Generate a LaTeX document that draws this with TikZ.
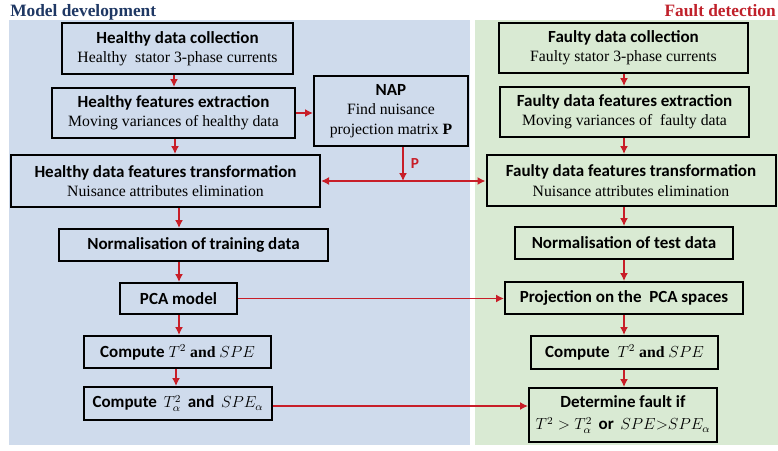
\documentclass[tikz,border=0pt]{standalone}
\usepackage{fontspec}
\setmainfont{Liberation Serif}
\newfontfamily\calfont{Carlito}
\usetikzlibrary{arrows.meta}
\definecolor{panelblue}{HTML}{CFDBEC}
\definecolor{panelgreen}{HTML}{D9EAD3}
\definecolor{arrred}{HTML}{C81E28}
\definecolor{titleblue}{HTML}{1F3864}
\definecolor{titlered}{HTML}{C0202A}
\newcommand\hd[1]{{\calfont\bfseries\fontsize{12.75}{15}\selectfont #1}}
\tikzset{
  box/.style={draw=black, line width=1.5pt, align=center, inner sep=1pt,
    font=\fontsize{11.8}{14.5}\selectfont},
  sz/.style 2 args={minimum width=#1*0.75pt, minimum height=#2*0.75pt},
  arr/.style={draw=arrred, line width=1.1pt, -{Latex[length=6pt,width=6pt]}},
  arrb/.style={draw=arrred, line width=1.1pt, {Latex[length=6pt,width=6pt]}-{Latex[length=6pt,width=6pt]}},
  heading/.style={font=\bfseries\fontsize{13}{15}\selectfont, inner sep=0pt},
}
\begin{document}
\begin{tikzpicture}[x=0.75pt,y=-0.75pt]
\useasboundingbox (0,0) rectangle (778,450);
\fill[white] (0,0) rectangle (778,450);
\fill[panelblue] (9,20) rectangle (470,445);
\fill[panelgreen] (475,20) rectangle (778,445);
\node[heading, text=titleblue, anchor=base west] (t1) at (10,16) {Model development};
\node[heading, text=titlered, anchor=base east] (t2) at (776,16) {Fault detection};
% left column
\node[box, sz={231}{51}] (b1) at (177.5,48.5) {\hd{Healthy data collection}\\Healthy~ stator 3-phase currents};
\node[box, sz={243}{50}] (b2) at (173.5,113) {\hd{Healthy features extraction}\\Moving variances of healthy data};
\node[box, sz={154}{70}] (nap) at (391,111) {\hd{NAP}\\Find nuisance\\projection matrix \textbf{P}};
\node[box, sz={309}{52}] (b3) at (165.5,181) {\hd{Healthy data features transformation}\\Nuisance attributes elimination};
\node[box, sz={269}{32}] (b4) at (193.5,245) {\hd{Normalisation of training data}};
\node[box, sz={117}{31}] (b5) at (178.5,298.5) {\hd{PCA model}};
\node[box, sz={187}{32}] (b6) at (177.5,352) {\hd{Compute} $T^2$ \textbf{and} $SPE$};
\node[box, sz={188}{33}] (b7) at (178,403.5) {\hd{Compute}\, $T^2_\alpha$\, \hd{and}\, $SPE_\alpha$};
% right column
\node[box, sz={249}{50}] (f1) at (623.5,48) {\hd{Faulty data collection}\\Faulty stator 3-phase currents};
\node[box, sz={249}{50}] (f2) at (624.5,112) {\hd{Faulty data features extraction}\\Moving variances of~ faulty data};
\node[box, sz={289}{51}] (f3) at (631,180.5) {\hd{Faulty data features transformation}\\Nuisance attributes elimination};
\node[box, sz={218}{32}] (f4) at (624,243) {\hd{Normalisation of test data}};
\node[box, sz={238}{32}] (f5) at (624,298) {\hd{Projection on the~ PCA spaces}};
\node[box, sz={187}{33}] (f6) at (624.5,352.5) {\hd{Compute}~ $T^2$ \textbf{and} $SPE$};
\node[box, sz={188}{54}] (f7) at (623,415) {\hd{Determine fault if}\\[2pt]$T^2 > T^2_\alpha$\, \hd{or}\, $SPE{>}SPE_\alpha$};
% column coordinates
\coordinate (x174) at (174,0);
\coordinate (x175) at (175,0);
\coordinate (x179) at (179,0);
\coordinate (x176) at (176,0);
\coordinate (xr) at (624,0);
\coordinate (j) at (403,181);
\coordinate (y406) at (0,406);
% left arrows
\draw[arr] (b1.south -| x174) -- (b2.north -| x174);
\draw[arr] (b2.south -| x175) -- (b3.north -| x175);
\draw[arr] (b3.south -| x179) -- (b4.north -| x179);
\draw[arr] (b4.south -| x179) -- (b5.north -| x179);
\draw[arr] (b5.south -| x179) -- (b6.north -| x179);
\draw[arr] (b6.south -| x176) -- (b7.north -| x176);
% right arrows
\draw[arr] (f1.south -| xr) -- (f2.north -| xr);
\draw[arr] (f2.south -| xr) -- (f3.north -| xr);
\draw[arr] (f3.south -| xr) -- (f4.north -| xr);
\draw[arr] (f4.south -| xr) -- (f5.north -| xr);
\draw[arr] (f5.south -| xr) -- (f6.north -| xr);
\draw[arr] (f6.south -| xr) -- (f7.north -| xr);
% NAP connections
\draw[arr] (b2.east) -- (b2.east -| nap.west);
\draw[arr] (nap.south -| j) -- (j);
\draw[arrb] (b3.east |- j) -- (f3.west |- j);
\node[text=arrred, font=\calfont\bfseries\fontsize{11.5}{13}\selectfont, inner sep=0pt] (plabel) at (415,164) {P};
% cross connections
\draw[arr] (b5.east) -- (b5.east -| f5.west);
\draw[arr] (b7.east |- y406) -- (f7.west |- y406);
\end{tikzpicture}
\end{document}
